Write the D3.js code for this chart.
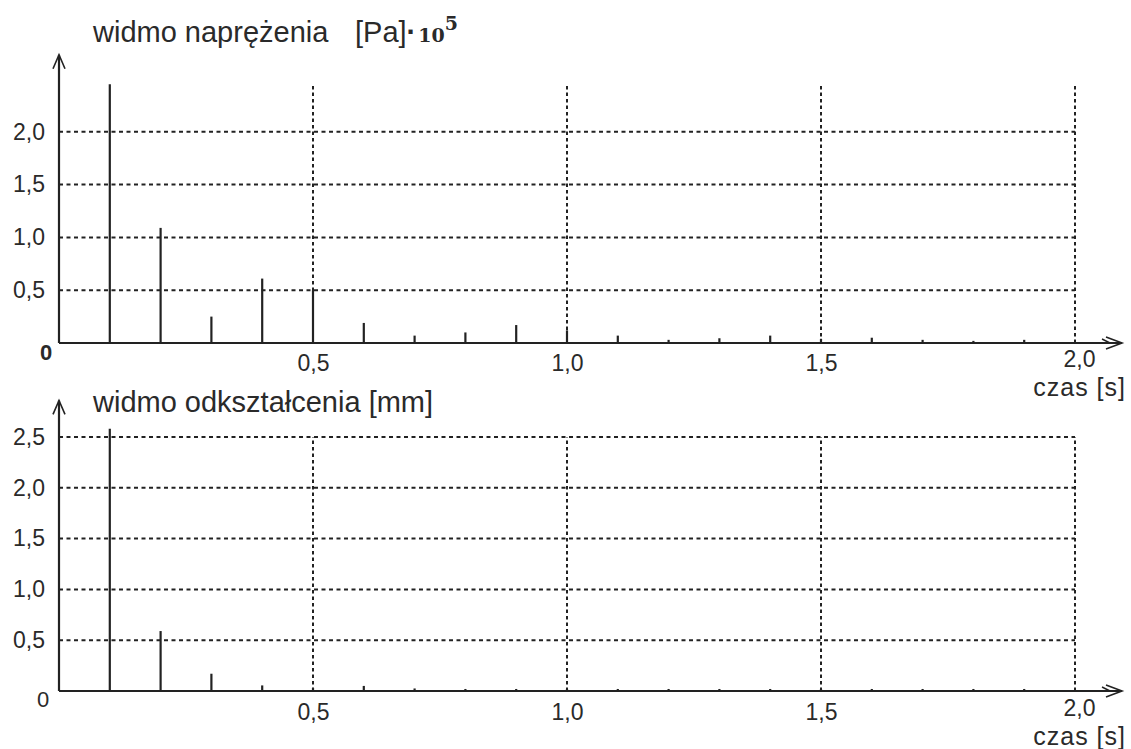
<!DOCTYPE html>
<html>
<head>
<meta charset="utf-8">
<script src="https://cdn.jsdelivr.net/npm/d3@7"></script>
<style>
  html, body { margin: 0; padding: 0; background: #fff; }
  svg { display: block; }
  text { font-family: "Liberation Sans", Arial, sans-serif; fill: #2a2a2a; }
</style>
</head>
<body>
<script>
// Spectrum sample times [s]
const times = [0.1, 0.2, 0.3, 0.4, 0.5, 0.6, 0.7, 0.8, 0.9, 1.0,
               1.1, 1.2, 1.3, 1.4, 1.5, 1.6, 1.7, 1.8, 1.9];
// Stress spectrum amplitudes [Pa]·10^5
const stressValues = [2.45, 1.09, 0.25, 0.61, 0.50, 0.19, 0.07, 0.10, 0.17, 0.12,
                      0.07, 0.03, 0.045, 0.07, 0.04, 0.05, 0.03, 0.02, 0.03];
// Strain spectrum amplitudes [mm]
const strainValues = [2.58, 0.59, 0.17, 0.055, 0.03, 0.05, 0.025, 0.02, 0.02, 0.02,
                      0.02, 0.02, 0.02, 0.02, 0.02, 0.02, 0.02, 0.02, 0.02];
// Axis ticks
const timeTicks = [0.5, 1.0, 1.5, 2.0];
const stressTicks = [0.5, 1.0, 1.5, 2.0];
const strainTicks = [0.5, 1.0, 1.5, 2.0, 2.5];

const W = 1131, H = 749;
const ink = "#222";
const commaFmt = d3.formatLocale({ decimal: ",", thousands: " ", grouping: [3], currency: ["", ""] }).format(".1f");

const svg = d3.select("body").append("svg").attr("width", W).attr("height", H);

const x = d3.scaleLinear().domain([0, 2]).range([59, 1075]);

function panel(opts) {
  const { y, values, yTicks, gridTop, axisTop, xLabelPad, zeroBold, zeroX, zeroY, czasY } = opts;
  const g = svg.append("g");
  const y0 = y(0);

  // horizontal dashed grid
  g.selectAll("line.hgrid").data(yTicks).join("line")
    .attr("x1", x(0)).attr("x2", x(2))
    .attr("y1", d => y(d)).attr("y2", d => y(d))
    .attr("stroke", ink).attr("stroke-width", 2).attr("stroke-dasharray", "4,3.5");

  // vertical dashed grid
  g.selectAll("line.vgrid").data(timeTicks).join("line")
    .attr("x1", d => x(d)).attr("x2", d => x(d))
    .attr("y1", y0).attr("y2", y(gridTop))
    .attr("stroke", ink).attr("stroke-width", 2).attr("stroke-dasharray", "3.5,3");

  // spectrum lines
  g.selectAll("line.bar").data(times.map((t, i) => [t, values[i]])).join("line")
    .attr("x1", d => x(d[0])).attr("x2", d => x(d[0]))
    .attr("y1", y0).attr("y2", d => y(d[1]))
    .attr("stroke", ink).attr("stroke-width", 2.2);

  // x axis with arrow
  const tipX = 1122;
  g.append("line").attr("x1", x(0)).attr("x2", tipX).attr("y1", y0).attr("y2", y0)
    .attr("stroke", ink).attr("stroke-width", 2.2);
  g.append("path")
    .attr("d", `M${tipX - 16},${y0 - 6} L${tipX},${y0} L${tipX - 16},${y0 + 6}`)
    .attr("fill", "none").attr("stroke", ink).attr("stroke-width", 1.6);
  g.append("path")
    .attr("d", `M${tipX - 20},${y0 - 4} L${tipX - 12},${y0}`)
    .attr("fill", "none").attr("stroke", ink).attr("stroke-width", 1.4);

  // y axis with arrow
  const tipY = y(axisTop);
  g.append("line").attr("x1", x(0)).attr("x2", x(0)).attr("y1", y0).attr("y2", tipY)
    .attr("stroke", ink).attr("stroke-width", 2.2);
  g.append("path")
    .attr("d", `M${x(0) - 6},${tipY + 14} L${x(0)},${tipY} L${x(0) + 6},${tipY + 14}`)
    .attr("fill", "none").attr("stroke", ink).attr("stroke-width", 1.6);

  // y tick labels
  const ya = g.append("g").attr("transform", `translate(${x(0)},0)`)
    .call(d3.axisLeft(y).tickValues(yTicks).tickSize(0).tickPadding(14).tickFormat(commaFmt));
  ya.select(".domain").remove();
  ya.selectAll("text").attr("font-size", 23).attr("font-family", "Liberation Sans, Arial, sans-serif").attr("fill", "#2a2a2a");

  // x tick labels; the last one sits a little higher, above the axis name
  const xa = g.append("g").attr("transform", `translate(0,${y0})`)
    .call(d3.axisBottom(x).tickValues(timeTicks).tickSize(0).tickPadding(xLabelPad).tickFormat(commaFmt));
  xa.select(".domain").remove();
  xa.selectAll("text").attr("font-size", 23).attr("font-family", "Liberation Sans, Arial, sans-serif").attr("fill", "#2a2a2a");
  xa.selectAll(".tick").filter(d => d === 2.0).select("text")
    .attr("dx", 4).attr("y", xLabelPad - 4);

  // origin label
  g.append("text").attr("x", zeroX).attr("y", zeroY).attr("text-anchor", "middle")
    .attr("font-size", 22).attr("font-weight", zeroBold ? "bold" : "normal").text("0");

  // x axis name
  g.append("text").attr("x", 1126).attr("y", czasY).attr("text-anchor", "end")
    .attr("font-size", 25).attr("letter-spacing", 1).text("czas [s]");

  return g;
}

// upper panel: stress spectrum
const yStress = d3.scaleLinear().domain([0, 2.5]).range([343, 343 - 2.5 * 105.6]);
panel({ y: yStress, values: stressValues, yTicks: stressTicks, gridTop: 2.45, axisTop: 2.73,
        xLabelPad: 12, zeroBold: true, zeroX: 46, zeroY: 360, czasY: 396 });

const t1 = svg.append("text").attr("x", 93).attr("y", 42).attr("font-size", 29);
t1.append("tspan").text("widmo naprężenia");
t1.append("tspan").attr("x", 355).text("[Pa]");
t1.append("tspan").attr("font-weight", "bold").text("·");
t1.append("tspan").attr("font-family", "DejaVu Serif, serif").attr("font-weight", "bold")
  .attr("font-size", 19).attr("dx", 2).text("10");
t1.append("tspan").attr("font-family", "DejaVu Serif, serif").attr("font-weight", "bold")
  .attr("font-size", 19).attr("dy", -12).text("5");

// lower panel: strain spectrum
const yStrain = d3.scaleLinear().domain([0, 2.5]).range([691, 691 - 2.5 * 101.6]);
panel({ y: yStrain, values: strainValues, yTicks: strainTicks, gridTop: 2.5, axisTop: 2.86,
        xLabelPad: 13, zeroBold: false, zeroX: 43, zeroY: 707, czasY: 745 });

svg.append("text").attr("x", 93).attr("y", 412).attr("font-size", 29)
  .text("widmo odkształcenia [mm]");
</script>
</body>
</html>
